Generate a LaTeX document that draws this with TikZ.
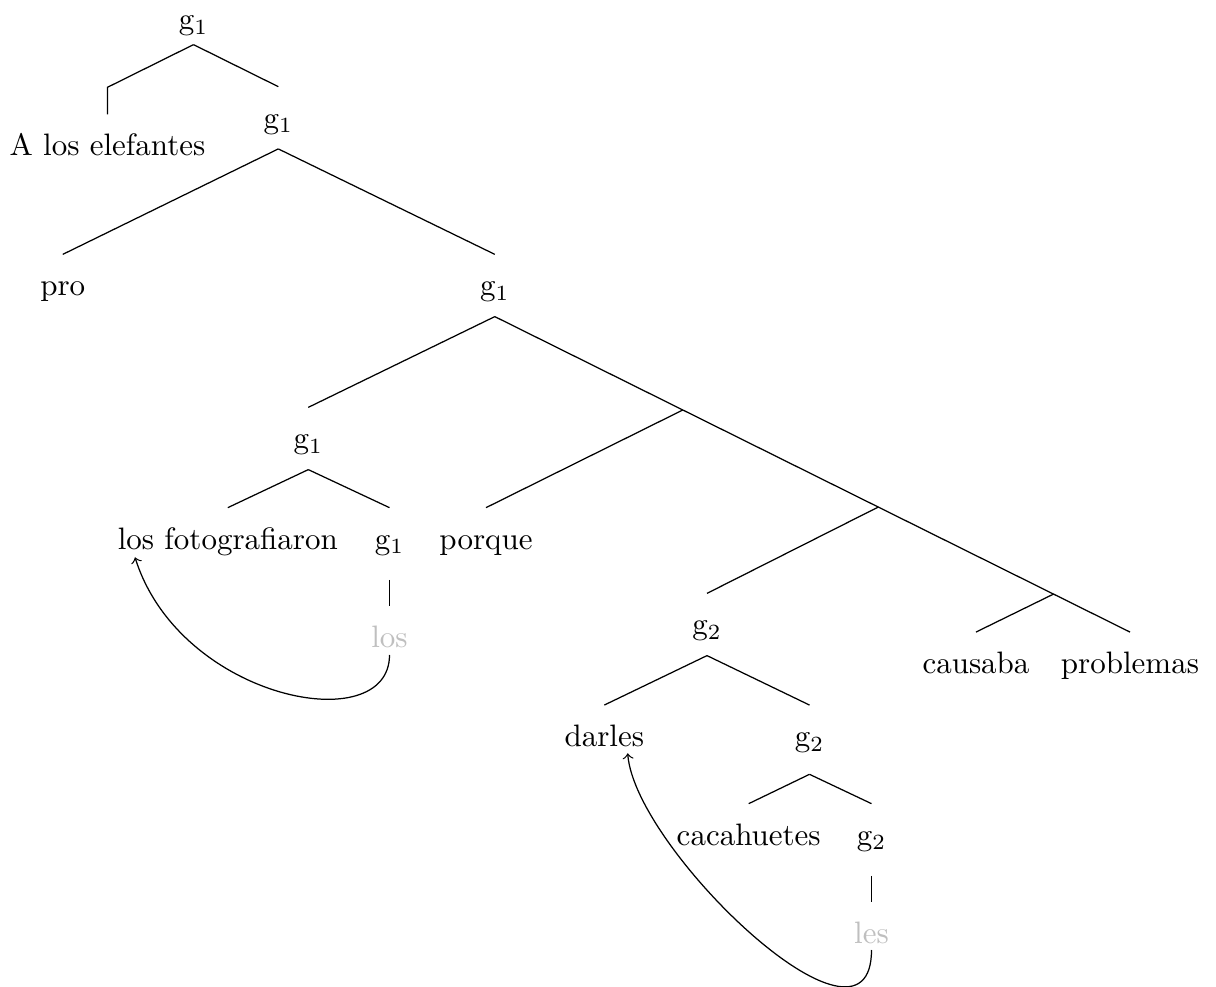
\documentclass[tikz,border=0pt]{standalone}
\usetikzlibrary{calc}
\begin{document}
\begin{tikzpicture}[x=0.32258pt,y=-0.32258pt,
  lbl/.style={inner sep=0pt, anchor=base, text height=13.23pt, text depth=6.45pt},
  trace/.style={lbl, text=lightgray},
  edge/.style={draw=black, line width=0.4pt},
  move/.style={->, draw=black, line width=0.4pt}]
\useasboundingbox (0,0) rectangle (1216,987);
% nodes
\node[lbl, text depth=4.52pt] (g1a) at (193.5,30) {g$_1$};
\coordinate (elbow) at (107.5,87.3);
\node[lbl] (ale) at (107.5,156) {A los elefantes};
\node[lbl] (g1b) at (278.3,128.3) {g$_1$};
\node[lbl] (pro) at (62.8,296) {pro};
\node[lbl] (g1c) at (494.8,296) {g$_1$};
\node[lbl] (g1d) at (308.3,449) {g$_1$};
\node[lbl] (lf) at (227.8,549.3) {los fotografiaron};
\node[lbl] (g1e) at (389.5,549.3) {g$_1$};
\node[lbl] (porque) at (486,549.3) {porque};
\node[trace] (los) at (389.5,647.7) {los};
\node[lbl] (g2a) at (707,635) {g$_2$};
\node[lbl] (causaba) at (976,673.7) {causaba};
\node[lbl] (problemas) at (1130,673.7) {problemas};
\node[lbl] (darles) at (604.3,746.7) {darles};
\node[lbl, text depth=8.71pt] (g2b) at (809.5,746.7) {g$_2$};
\node[lbl] (cac) at (748.7,845.3) {cacahuetes};
\node[lbl] (g2c) at (871.5,845.3) {g$_2$};
\node[trace] (les) at (871.5,943.7) {les};
% junctions on the long branch
\coordinate (j1) at ($(g1c.south)!0.296!(problemas.north)$);
\coordinate (j2) at ($(g1c.south)!0.6037!(problemas.north)$);
\coordinate (j3) at ($(g1c.south)!0.8796!(problemas.north)$);
% edges
\draw[edge] (g1a.south) -- (elbow) -- (ale.north);
\draw[edge] (g1a.south) -- (g1b.north);
\draw[edge] (g1b.south) -- (pro.north);
\draw[edge] (g1b.south) -- (g1c.north);
\draw[edge] (g1c.south) -- (g1d.north);
\draw[edge] (g1c.south) -- (problemas.north);
\draw[edge] (j1) -- (porque.north);
\draw[edge] (j2) -- (g2a.north);
\draw[edge] (j3) -- (causaba.north);
\draw[edge] (g1d.south) -- (lf.north);
\draw[edge] (g1d.south) -- (g1e.north);
\draw[edge, shorten <=3.23pt] (g1e.south) -- (los.north);
\draw[edge] (g2a.south) -- (darles.north);
\draw[edge] (g2a.south) -- (g2b.north);
\draw[edge] (g2b.south) -- (cac.north);
\draw[edge] (g2b.south) -- (g2c.north);
\draw[edge, shorten <=3.23pt] (g2c.south) -- (les.north);
% movement arrows
\draw[move] ($(los.base)+(0,7.3)$) .. controls +(0,85) and +(45,142.7) .. ($(lf.base)+(-92.8,8)$);
\draw[move] ($(les.base)+(0,6.3)$) .. controls +(0,125) and +(7.3,96.7) .. ($(darles.base)+(23.4,6.6)$);
\end{tikzpicture}
\end{document}
